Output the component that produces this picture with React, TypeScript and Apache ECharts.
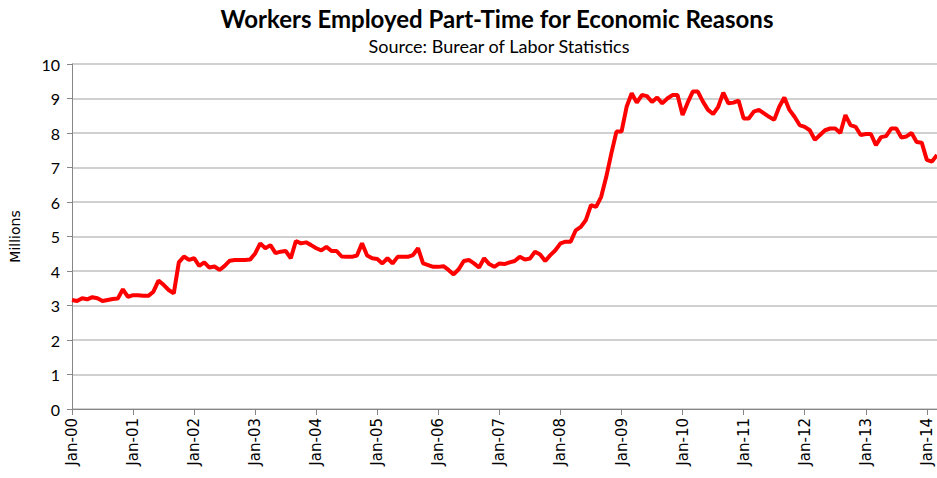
import React, { useEffect, useRef } from "react";
import * as echarts from "echarts";

const monthNames = ["Jan", "Feb", "Mar", "Apr", "May", "Jun", "Jul", "Aug", "Sep", "Oct", "Nov", "Dec"];
const startYear = 2000;

const values2000_2004 = [
  3.16, 3.13, 3.21, 3.18, 3.24, 3.21, 3.13, 3.16, 3.19, 3.2, 3.47, 3.25,
  3.3, 3.3, 3.28, 3.28, 3.4, 3.72, 3.6, 3.45, 3.35, 4.25, 4.42, 4.32,
  4.37, 4.15, 4.25, 4.1, 4.13, 4.03, 4.15, 4.3, 4.32, 4.32, 4.32, 4.33,
  4.51, 4.8, 4.66, 4.75, 4.52, 4.56, 4.58, 4.37, 4.87, 4.8, 4.83, 4.75,
  4.66, 4.6, 4.7, 4.58, 4.58, 4.42, 4.41, 4.41, 4.45, 4.8, 4.45, 4.37,
];
const values2005_2009 = [
  4.35, 4.22, 4.37, 4.22, 4.41, 4.41, 4.41, 4.46, 4.66, 4.22, 4.17, 4.12,
  4.12, 4.14, 4.03, 3.9, 4.05, 4.29, 4.32, 4.22, 4.1, 4.37, 4.2, 4.12,
  4.22, 4.2, 4.25, 4.29, 4.41, 4.33, 4.36, 4.56, 4.48, 4.29, 4.46, 4.6,
  4.8, 4.85, 4.85, 5.18, 5.28, 5.48, 5.91, 5.86, 6.15, 6.73, 7.41, 8.04,
  8.04, 8.76, 9.15, 8.88, 9.1, 9.07, 8.9, 9.03, 8.86, 9.0, 9.1, 9.1,
];
const values2010_2014 = [
  8.52, 8.88, 9.2, 9.2, 8.91, 8.67, 8.55, 8.76, 9.17, 8.86, 8.88, 8.94,
  8.42, 8.42, 8.62, 8.67, 8.57, 8.47, 8.38, 8.76, 9.03, 8.67, 8.47, 8.23,
  8.18, 8.08, 7.8, 7.94, 8.08, 8.13, 8.13, 8.0, 8.52, 8.23, 8.18, 7.94,
  7.97, 7.97, 7.65, 7.88, 7.91, 8.13, 8.13, 7.87, 7.9, 8.0, 7.74, 7.72,
  7.22, 7.17, 7.36,
];
const values = [...values2000_2004, ...values2005_2009, ...values2010_2014];

const categories = values.map((_, i) => {
  const y = startYear + Math.floor(i / 12);
  return `${monthNames[i % 12]}-${String(y % 100).padStart(2, "0")}`;
});

const titleText = "Workers Employed Part-Time for Economic Reasons";
const subtitleText = "Source: Burear of Labor Statistics";
const yAxisName = "Millions";

export default function App() {
  const ref = useRef<HTMLDivElement>(null);
  useEffect(() => {
    if (!ref.current) return;
    const chart = echarts.init(ref.current, null, { renderer: "svg" });
    chart.setOption({
      animation: false,
      backgroundColor: "#ffffff",
      graphic: [
        {
          type: "text",
          x: 497,
          y: 18,
          style: {
            text: titleText,
            textAlign: "center",
            textVerticalAlign: "middle",
            font: "bold 24px Lato",
            fill: "#000000",
          },
        },
        {
          type: "text",
          x: 499,
          y: 46,
          style: {
            text: subtitleText,
            textAlign: "center",
            textVerticalAlign: "middle",
            font: "18px Lato",
            fill: "#000000",
          },
        },
      ],
      grid: { left: 72, right: 0, top: 64, bottom: 69, containLabel: false },
      xAxis: {
        type: "category",
        data: categories,
        boundaryGap: false,
        axisLine: { lineStyle: { color: "#868686", width: 1 } },
        axisTick: { show: true, interval: 11, length: 6, lineStyle: { color: "#868686" } },
        axisLabel: {
          interval: 11,
          rotate: 90,
          margin: 9,
          color: "#000000",
          fontFamily: "DejaVu Sans",
          fontSize: 15,
        },
        splitLine: { show: false },
      },
      yAxis: {
        type: "value",
        min: 0,
        max: 10,
        interval: 1,
        name: yAxisName,
        nameLocation: "middle",
        nameGap: 50,
        nameTextStyle: { fontFamily: "DejaVu Sans", fontSize: 14, color: "#000000" },
        axisLine: { show: true, lineStyle: { color: "#868686" } },
        axisTick: { show: true, length: 5, lineStyle: { color: "#868686" } },
        axisLabel: { color: "#000000", fontFamily: "Lato", fontSize: 16, margin: 12 },
        splitLine: { lineStyle: { color: "#c0c0c0", width: 1.5 } },
      },
      series: [
        {
          type: "line",
          data: values,
          showSymbol: false,
          symbol: "none",
          lineStyle: { color: "#ff0000", width: 4 },
          itemStyle: { color: "#ff0000" },
        },
      ],
    });
    return () => chart.dispose();
  }, []);
  return (
    <div
      ref={ref}
      style={{ position: "absolute", left: 0, top: 0, width: 937, height: 478 }}
    />
  );
}
